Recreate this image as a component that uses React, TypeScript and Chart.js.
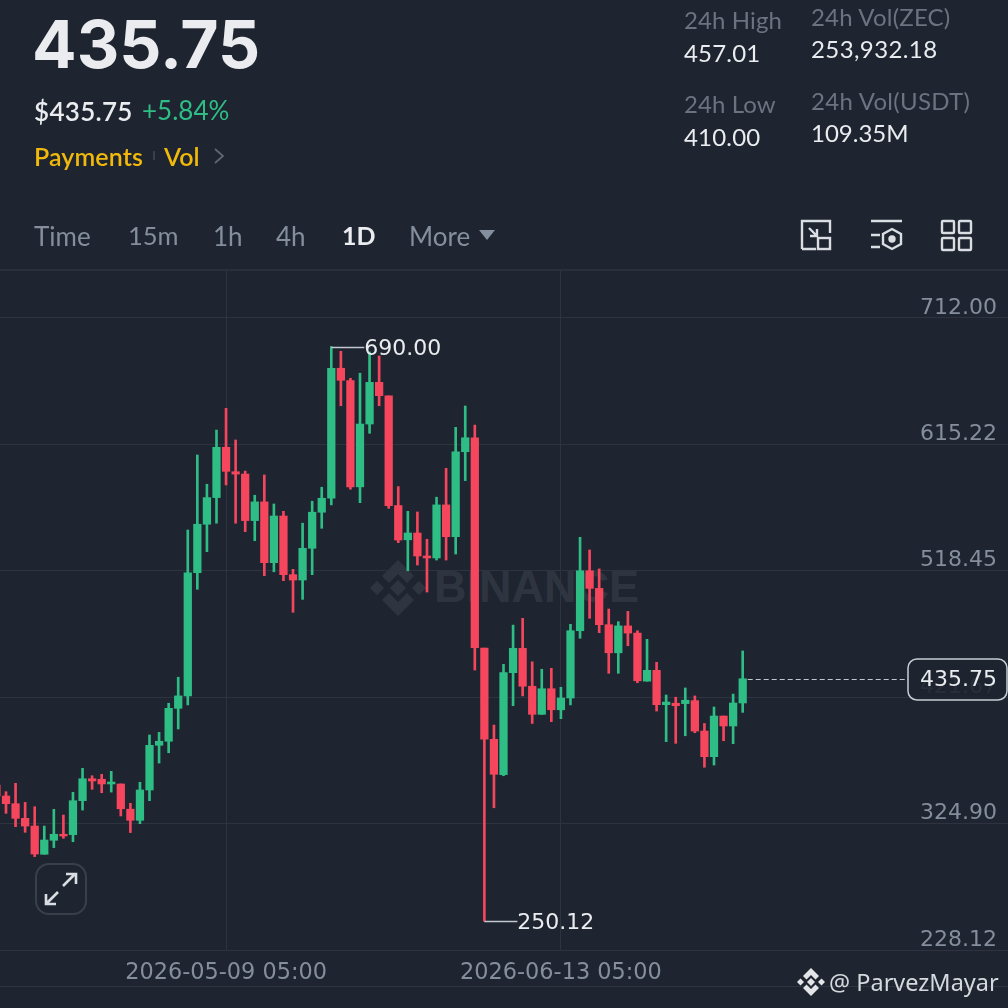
import React, { useEffect, useRef } from "react";
import { Chart, registerables } from "chart.js";

Chart.register(...registerables);

const opens = [354.4,346.0,340.1,328.9,323.0,301.4,312.1,316.7,316.4,342.4,359.2,358.8,355.2,355.2,335.9,327.4,350.6,384.8,387.9,413.1,422.6,516.9,554.0,574.4,612.9,594.2,592.4,556.8,571.1,524.6,560.3,515.4,511.3,535.6,563.2,573.9,673.4,663.9,582.6,630.7,662.6,652.2,568.3,542.1,547.3,529.7,528.2,568.8,544.5,609.5,620.2,459.2,389.4,362.4,440.4,459.0,430.0,408.5,428.1,412.0,421.0,472.5,518.4,504.9,477.1,455.6,476.2,470.7,433.9,442.2,415.9,417.0,416.7,419.0,395.7,376.1,407.2,399.6,417.2];
const highs = [355.9,349.3,355.7,341.1,337.8,323.0,335.8,331.4,348.8,367.2,361.5,362.6,364.9,355.2,340.4,356.5,392.7,394.7,417.0,436.9,549.6,607.0,584.6,626.1,642.7,618.5,594.7,576.2,591.7,569.5,563.9,519.5,554.8,571.6,582.3,690.0,686.4,665.7,669.6,685.9,682.8,652.2,582.8,563.9,563.4,542.5,574.7,596.8,628.2,644.5,629.9,459.2,400.3,446.8,476.8,482.0,448.7,443.0,443.7,429.2,477.4,544.0,534.3,519.8,489.1,479.4,487.3,472.5,465.9,448.3,423.3,421.6,428.7,422.6,401.5,414.1,407.2,424.0,457.01];
const lows = [342.9,332.7,322.5,318.2,299.6,301.4,306.5,313.6,311.0,335.2,351.1,348.5,349.0,330.7,318.0,324.8,342.4,371.2,379.1,397.3,415.7,504.2,533.0,554.8,584.1,554.8,548.3,541.4,514.6,517.6,510.8,486.6,496.5,515.4,550.9,568.8,644.7,580.8,570.5,623.6,644.7,566.2,539.9,518.4,522.8,502.1,526.6,526.6,531.2,587.4,442.4,250.12,337.0,361.5,415.1,422.6,401.5,408.5,402.9,405.2,415.7,466.7,482.0,471.0,439.9,439.9,461.0,432.7,433.9,411.0,387.6,386.3,392.1,394.4,368.0,369.7,388.3,386.0,410.0];
const closes = [346.0,340.1,328.9,323.0,301.6,312.3,316.7,315.4,342.4,359.2,357.5,355.2,356.7,336.2,327.4,350.6,384.8,387.9,413.1,422.6,516.9,554.0,574.4,612.9,594.5,592.4,556.8,571.1,524.6,560.3,515.4,511.3,535.6,563.2,573.9,673.4,664.2,582.6,630.7,662.6,652.4,568.3,541.9,547.3,529.7,528.2,568.8,544.5,609.5,620.2,459.5,389.4,362.6,440.4,459.0,430.0,408.5,428.1,412.0,421.0,472.5,518.4,504.9,477.1,455.6,476.2,470.7,434.2,442.2,415.9,417.9,415.1,419.3,395.7,376.1,407.2,399.6,417.2,435.75];

const priceTicks = [712.0, 615.22, 518.45, 421.67, 324.9, 228.12];
const dateTicks = ["2026-05-09 05:00", "2026-06-13 05:00"];
const dateTickIndex = [24, 59];
const highMark = { index: 35, value: "690.00" };
const lowMark = { index: 51, value: "250.12" };
const lastPrice = 435.75;

const UP = "#2EBD85";
const DOWN = "#F6465D";
const BG = "#1E2530";
const GRID = "#2E343F";
const GRAY = "#848E9C";
const LIGHT = "#EAECEF";
const UI = "Lato, Inter, sans-serif";
const AXIS = "'DejaVu Sans', sans-serif";

const colorOf = (i: number) => (closes[i] >= opens[i] ? UP : DOWN);

const overlay = {
  id: "overlay",
  afterDatasetsDraw(chart: any) {
    const { ctx, scales } = chart;
    const x = scales.x;
    const y = scales.y;
    const labelMark = (m: { index: number; value: string }, price: number) => {
      const px = x.getPixelForValue(m.index);
      const py = Math.round(y.getPixelForValue(price)) + 0.5;
      ctx.save();
      ctx.strokeStyle = "#C4C8CE";
      ctx.lineWidth = 1.4;
      ctx.beginPath();
      ctx.moveTo(px, py);
      ctx.lineTo(px + 33, py);
      ctx.stroke();
      ctx.fillStyle = LIGHT;
      ctx.font = `22px ${AXIS}`;
      ctx.textBaseline = "middle";
      ctx.textAlign = "left";
      ctx.fillText(m.value, px + 33, py + 2);
      ctx.restore();
    };
    labelMark(highMark, highs[highMark.index]);
    labelMark(lowMark, lows[lowMark.index]);
  },
  afterDraw(chart: any) {
    const { ctx, scales } = chart;
    const x = scales.x;
    const y = scales.y;
    const py = Math.round(y.getPixelForValue(lastPrice)) + 0.5;
    const startX = x.getPixelForValue(opens.length - 1) + 5;
    ctx.save();
    ctx.strokeStyle = "#C4C8CE";
    ctx.lineWidth = 1.2;
    ctx.setLineDash([5, 3]);
    ctx.beginPath();
    ctx.moveTo(startX, py);
    ctx.lineTo(908, py);
    ctx.stroke();
    ctx.setLineDash([]);
    ctx.fillStyle = "rgba(30,37,48,0.9)";
    ctx.strokeStyle = "#C9CDD3";
    ctx.lineWidth = 1.5;
    ctx.beginPath();
    ctx.roundRect(908, py - 20.5, 99, 41, 9);
    ctx.fill();
    ctx.stroke();
    ctx.fillStyle = LIGHT;
    ctx.font = `22px ${AXIS}`;
    ctx.textAlign = "right";
    ctx.textBaseline = "middle";
    ctx.fillText(lastPrice.toFixed(2), 997, py + 1);
    ctx.restore();
  },
};

const T = ({ x, y, size, color, weight, children, font, spacing }: any) => (
  <span
    style={{
      position: "absolute",
      left: x,
      top: y,
      fontSize: size,
      lineHeight: `${size}px`,
      color,
      fontWeight: weight || 400,
      fontFamily: font || UI,
      letterSpacing: spacing || 0,
      whiteSpace: "nowrap",
    }}
  >
    {children}
  </span>
);

export default function App() {
  const ref = useRef<HTMLCanvasElement>(null);
  useEffect(() => {
    document.body.style.margin = "0";
    document.body.style.background = BG;
    const colors = opens.map((_, i) => colorOf(i));
    const chart = new Chart(ref.current as HTMLCanvasElement, {
      type: "bar",
      data: {
        datasets: [
          {
            label: "wick",
            data: opens.map((_, i) => ({ x: i, y: [lows[i], highs[i]] })) as any,
            backgroundColor: colors,
            barThickness: 2,
            grouped: false,
            order: 2,
          },
          {
            label: "body",
            data: opens.map((_, i) => ({ x: i, y: [opens[i], closes[i]] })) as any,
            backgroundColor: colors,
            barThickness: 7.6,
            grouped: false,
            order: 1,
          },
        ],
      },
      options: {
        animation: false,
        responsive: false,
        devicePixelRatio: 1,
        layout: { padding: { top: 270, left: 0, right: 0, bottom: 0 } },
        plugins: { legend: { display: false }, tooltip: { enabled: false } },
        scales: {
          x: {
            type: "linear",
            offset: false,
            min: 0.373,
            max: 105.73,
            afterBuildTicks: (s: any) => {
              s.ticks = dateTickIndex.map((value) => ({ value }));
            },
            afterFit: (s: any) => {
              s.height = 58;
            },
            border: { display: false },
            grid: { color: GRID, lineWidth: 1, drawTicks: false, offset: false },
            ticks: {
              autoSkip: false,
              maxRotation: 0,
              padding: 10,
              color: GRAY,
              font: { family: AXIS, size: 22.4 },
              callback: (v: any) => dateTicks[dateTickIndex.indexOf(Number(v))],
            },
          },
          y: {
            type: "linear",
            position: "right",
            min: 228.12,
            max: 748.6,
            afterBuildTicks: (s: any) => {
              s.ticks = priceTicks.map((value) => ({ value }));
            },
            afterFit: (s: any) => {
              s.width = 0;
            },
            border: { display: false },
            grid: { color: GRID, lineWidth: 1, drawTicks: false },
            ticks: {
              mirror: true,
              autoSkip: false,
              padding: -11,
              labelOffset: -10,
              color: GRAY,
              font: { family: AXIS, size: 22 },
              callback: (v: any) => Number(v).toFixed(2),
            },
          },
        },
      },
      plugins: [overlay],
    } as any);
    return () => chart.destroy();
  }, []);

  const dim = "#6B7380";
  return (
    <div style={{ position: "relative", width: 1008, height: 1008, background: BG, overflow: "hidden" }}>
      {/* watermark under the transparent canvas */}
      <svg style={{ position: "absolute", left: 370, top: 560 }} width="56" height="56" viewBox="0 0 56 56">
        <g fill="#2F3540">
          <path d="M28 0 L44 16 L37 23 L28 14 L19 23 L12 16 Z" />
          <path d="M28 56 L44 40 L37 33 L28 42 L19 33 L12 40 Z" />
          <path d="M0 28 L7 21 L14 28 L7 35 Z" />
          <path d="M42 28 L49 21 L56 28 L49 35 Z" />
          <path d="M28 20 L36 28 L28 36 L20 28 Z" />
        </g>
      </svg>
      <T x={434} y={564} size={45} color="#2F3540" weight={700} font="'Liberation Sans', sans-serif">BINANCE</T>

      <canvas ref={ref} width={1008} height={1008} style={{ position: "absolute", left: 0, top: 0, width: 1008, height: 1008 }} />

      <div style={{ position: "absolute", left: 0, top: 269, width: 1008, height: 2, background: "#2A303A" }} />
      <div style={{ position: "absolute", left: 0, top: 986, width: 1008, height: 1, background: "#2F3540" }} />

      <T x={32} y={11} size={66} color={LIGHT} weight={700} font="Inter, sans-serif" spacing={0}>435.75</T>
      <T x={34} y={98} size={26} color={LIGHT} weight={600} spacing={0.3}>$435.75</T>
      <T x={142} y={97} size={26} color={UP}>+5.84%</T>
      <T x={34} y={144} size={25} color="#F0B90B" weight={600} spacing={0.1}>Payments</T>
      <div style={{ position: "absolute", left: 153, top: 151, width: 2, height: 9, background: "#3A3F49" }} />
      <T x={164} y={144} size={25} color="#F0B90B" weight={600}>Vol</T>
      <svg style={{ position: "absolute", left: 212, top: 147 }} width="14" height="18" viewBox="0 0 14 18">
        <path d="M3 2 L11 9 L3 16" fill="none" stroke="#5E6673" strokeWidth="1.8" />
      </svg>

      <T x={34} y={223} size={26} color={GRAY}>Time</T>
      <T x={128} y={223} size={25.5} color={GRAY}>15m</T>
      <T x={213} y={223} size={26} color={GRAY}>1h</T>
      <T x={276} y={223} size={26} color={GRAY}>4h</T>
      <T x={342} y={223} size={25} color={LIGHT} weight={700}>1D</T>
      <T x={409} y={223} size={26} color={GRAY}>More</T>
      <svg style={{ position: "absolute", left: 479, top: 230 }} width="16" height="11" viewBox="0 0 16 11">
        <path d="M0 0 H16 L8 10 Z" fill="#848E9C" />
      </svg>

      <T x={684} y={8} size={24} color={dim} spacing={0.1}>24h High</T>
      <T x={684} y={41} size={24} color={LIGHT} spacing={0.2}>457.01</T>
      <T x={684} y={92} size={24} color={dim} spacing={0.1}>24h Low</T>
      <T x={684} y={125} size={24} color={LIGHT} spacing={0.2}>410.00</T>
      <T x={811} y={5} size={24} color={dim} spacing={0.2}>24h Vol(ZEC)</T>
      <T x={811} y={37} size={24} color={LIGHT} spacing={0.4}>253,932.18</T>
      <T x={811} y={89} size={24} color={dim} spacing={0.3}>24h Vol(USDT)</T>
      <T x={811} y={121} size={24} color={LIGHT}>109.35M</T>

      <svg style={{ position: "absolute", left: 800, top: 218 }} width="180" height="34" viewBox="0 0 180 34" fill="none" stroke="#DADDE2" strokeWidth="2.4">
        <path d="M2 31 V3 H30 V15 M16 31 H2" />
        <rect x="18" y="20" width="12" height="11" />
        <path d="M9 10 L17 18 M17 11 V18 H10" />
        <path d="M71 3 H102 M71 17 H80 M71 29 H80" />
        <path d="M92 11 L101 16 V26 L92 31 L83 26 V16 Z" />
        <circle cx="92" cy="21" r="2.5" fill="#DADDE2" />
        <rect x="142" y="3" width="12" height="12" rx="1" />
        <rect x="159" y="3" width="12" height="12" rx="1" />
        <rect x="142" y="20" width="12" height="12" rx="1" />
        <rect x="159" y="20" width="12" height="12" rx="1" />
      </svg>

      <svg style={{ position: "absolute", left: 35, top: 863 }} width="52" height="52" viewBox="0 0 52 52" fill="none">
        <rect x="1" y="1" width="50" height="50" rx="13" stroke="#3A404B" strokeWidth="2" fill={BG} />
        <path d="M28 23 L40 11 M31 11 H41 V21 M23 29 L11 41 M11 31 V41 H21" stroke="#DADDE2" strokeWidth="2.6" />
      </svg>

      <svg style={{ position: "absolute", left: 797, top: 968 }} width="28" height="28" viewBox="0 0 56 56">
        <g fill="#E3E5E8">
          <path d="M28 0 L44 16 L37 23 L28 14 L19 23 L12 16 Z" />
          <path d="M28 56 L44 40 L37 33 L28 42 L19 33 L12 40 Z" />
          <path d="M0 28 L7 21 L14 28 L7 35 Z" />
          <path d="M42 28 L49 21 L56 28 L49 35 Z" />
          <path d="M28 20 L36 28 L28 36 L20 28 Z" />
        </g>
      </svg>
      <T x={829} y={971} size={23.5} color="#D5D8DC" font="'Noto Sans', sans-serif">@ ParvezMayar</T>
    </div>
  );
}
